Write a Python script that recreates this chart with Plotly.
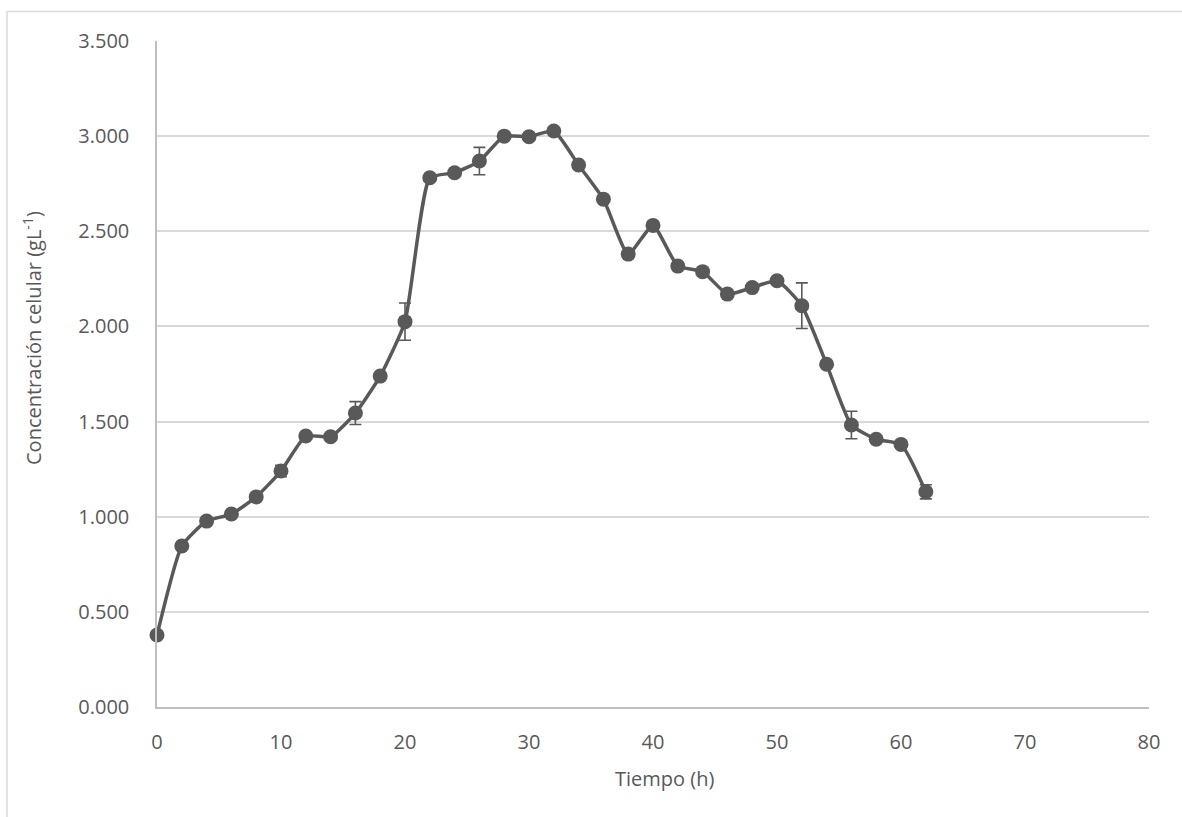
import plotly.graph_objects as go

# Cell concentration over time (mean and standard deviation)
tiempo_h = [0, 2, 4, 6, 8, 10, 12, 14, 16, 18, 20, 22, 24, 26, 28, 30,
            32, 34, 36, 38, 40, 42, 44, 46, 48, 50, 52, 54, 56, 58, 60, 62]
concentracion = [0.378, 0.846, 0.977, 1.014, 1.104, 1.240, 1.424, 1.420,
                 1.545, 1.739, 2.025, 2.781, 2.808, 2.869, 3.000, 2.997,
                 3.027, 2.848, 2.669, 2.380, 2.531, 2.317, 2.288, 2.170,
                 2.204, 2.240, 2.109, 1.801, 1.482, 1.407, 1.380, 1.131]
desviacion = [0.0, 0.0, 0.0, 0.0, 0.0, 0.030, 0.0, 0.0,
              0.060, 0.0, 0.098, 0.0, 0.0, 0.072, 0.0, 0.0,
              0.0, 0.0, 0.0, 0.0, 0.0, 0.0, 0.0, 0.0,
              0.0, 0.0, 0.120, 0.0, 0.072, 0.0, 0.0, 0.037]

x_ticks = [0, 10, 20, 30, 40, 50, 60, 70, 80]
y_ticks = [0.0, 0.5, 1.0, 1.5, 2.0, 2.5, 3.0, 3.5]

gris = "#595959"
texto = "#595959"
rejilla = "#d9d9d9"
fuente = "Open Sans"

fig = go.Figure()
fig.add_trace(go.Scatter(
    x=tiempo_h,
    y=concentracion,
    mode="lines+markers",
    line=dict(color=gris, width=3.5, shape="spline", smoothing=0.5),
    marker=dict(color=gris, size=15, symbol="circle"),
    error_y=dict(type="data", array=desviacion, visible=True,
                 color=gris, thickness=1.6, width=6),
    cliponaxis=False,
    showlegend=False,
    hoverinfo="x+y",
))

fig.update_layout(
    width=1182,
    height=817,
    margin=dict(l=157, r=33, t=41, b=110),
    paper_bgcolor="white",
    plot_bgcolor="white",
    font=dict(family=fuente, size=20, color=texto),
    xaxis=dict(
        range=[0, 80],
        tickvals=x_ticks,
        ticktext=[str(v) for v in x_ticks],
        showgrid=False,
        zeroline=False,
        showline=True,
        linecolor="#bfbfbf",
        linewidth=1.5,
        ticks="",
        ticklabelstandoff=16,
        tickfont=dict(family=fuente, size=20, color=texto),
        fixedrange=True,
    ),
    yaxis=dict(
        range=[0, 3.5],
        tickvals=y_ticks,
        tickformat=".3f",
        showgrid=True,
        gridcolor=rejilla,
        gridwidth=1.5,
        zeroline=False,
        showline=True,
        linecolor="#bfbfbf",
        linewidth=1.5,
        ticks="",
        ticklabelstandoff=22,
        tickfont=dict(family=fuente, size=20, color=texto),
        fixedrange=True,
    ),
    annotations=[
        dict(text="Tiempo (h)", xref="paper", yref="paper",
             x=(664 - 157) / 992, y=(707 - 778) / 666,
             xanchor="center", yanchor="middle", showarrow=False,
             font=dict(family=fuente, size=20, color=texto)),
        dict(text="Concentración celular (gL<sup>-1</sup>)",
             xref="paper", yref="paper",
             x=(32 - 157) / 992, y=(707 - 338) / 666,
             xanchor="center", yanchor="middle", textangle=-90,
             showarrow=False,
             font=dict(family=fuente, size=20, color=texto)),
    ],
    shapes=[dict(
        type="rect", xref="paper", yref="paper",
        x0=(7 - 157) / 992, x1=1.2,
        y0=-0.3, y1=(707 - 11.5) / 666,
        line=dict(color="#d9d9d9", width=1.5),
        fillcolor="rgba(0,0,0,0)",
        layer="below",
    )],
)

fig.write_html("out.html")
